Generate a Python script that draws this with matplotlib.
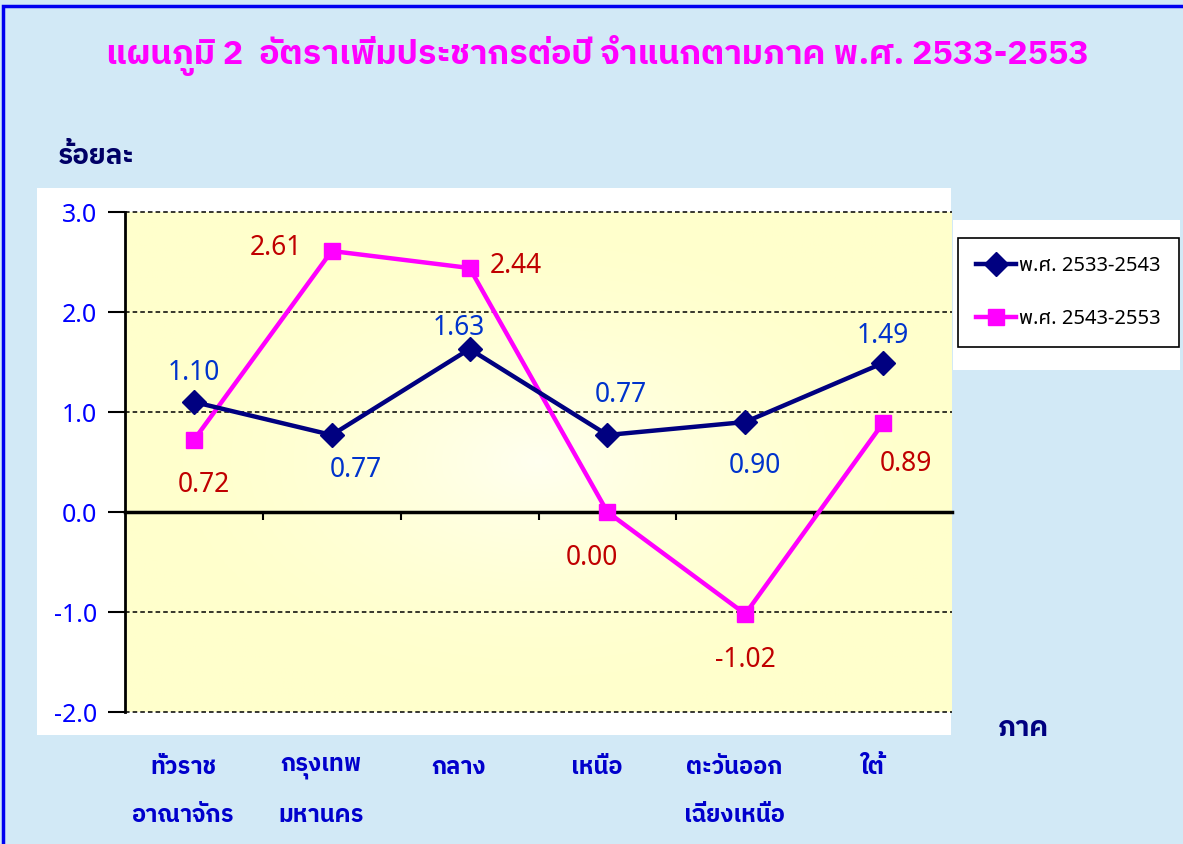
import matplotlib
matplotlib.use("Agg")
import matplotlib.pyplot as plt
from matplotlib.patches import Rectangle
from matplotlib import font_manager
import numpy as np

# ข้อมูล
ภาค = ['ทั่วราช\nอาณาจักร', 'กรุงเทพ\nมหานคร', 'กลาง', 'เหนือ', 'ตะวันออก\nเฉียงเหนือ', 'ใต้']
ชื่อชุด1 = 'พ.ศ. 2533-2543'
ชื่อชุด2 = 'พ.ศ. 2543-2553'
ค่าชุด1 = [1.10, 0.77, 1.63, 0.77, 0.90, 1.49]
ค่าชุด2 = [0.72, 2.61, 2.44, 0.00, -1.02, 0.89]
ค่าแกนy = [-2.0, -1.0, 0.0, 1.0, 2.0, 3.0]

# ตำแหน่งป้ายค่า (พิกเซล, +x ขวา, +y ลง)
เลื่อน1 = [(0, -29), (24, 35), (-11, -21), (13, -40), (10, 44), (0, -27)]
เลื่อน2 = [(10, 45), (-56, -3), (46, -2), (-15, 46), (0, 46), (23, 41)]

FONT = ['Noto Sans Thai', 'DejaVu Sans']
plt.rcParams['font.family'] = FONT

# หาไฟล์ตัวหนาที่มีอักษรไทย
def หาไฟล์หนา():
    for fam in ['Noto Sans Thai', 'Noto Sans Thai UI', 'IBM Plex Sans Thai', 'Sarabun', 'Kanit']:
        cand = [f for f in font_manager.fontManager.ttflist
                if f.name == fam and isinstance(f.weight, int) and f.weight >= 600
                and f.style == 'normal']
        if cand:
            cand.sort(key=lambda f: abs(f.weight - 700))
            return cand[0].fname
    return None

ไฟล์หนา = หาไฟล์หนา()

def bold(size):
    if ไฟล์หนา:
        return dict(fontproperties=font_manager.FontProperties(fname=ไฟล์หนา, size=size))
    return dict(fontsize=size, fontweight='bold')

W, H = 1183, 844
fig = plt.figure(figsize=(W / 100, H / 100), dpi=100)
fig.patch.set_facecolor('#D2E9F6')

def fx(px): return px / W
def fy(py): return 1 - py / H

# กรอบนอกสีน้ำเงิน
fig.patches.append(Rectangle((fx(3), fy(900)), fx(1300), fy(6) - fy(900), transform=fig.transFigure,
                             fill=False, edgecolor='#0000F0', linewidth=2.5, zorder=-2))
# พื้นขาวของกราฟ
fig.patches.append(Rectangle((fx(37), fy(735)), fx(951 - 37), fy(188) - fy(735), transform=fig.transFigure,
                             facecolor='white', edgecolor='none', zorder=-2))
# พื้นขาวของคำอธิบาย
fig.patches.append(Rectangle((fx(953), fy(370)), fx(1180 - 953), fy(220) - fy(370), transform=fig.transFigure,
                             facecolor='white', edgecolor='none', zorder=-2))

ax = fig.add_axes([fx(125), fy(712), fx(952 - 125), fy(212) - fy(712)])
ax.set_facecolor('#FFFFCC')

# ไล่สีพื้นเหลือง
gx, gy = np.meshgrid(np.linspace(-1, 1, 200), np.linspace(-1, 1, 200))
r = np.clip(np.sqrt(gx ** 2 + gy ** 2), 0, 1)
img = np.ones((200, 200, 3))
img[..., 2] = 0.80 + 0.14 * (1 - r) ** 1.8
ax.imshow(img, extent=[0, 1, 0, 1], transform=ax.transAxes, aspect='auto', zorder=0)

x = np.arange(len(ภาค)) + 0.5
ax.set_xlim(0, len(ภาค))
ax.set_ylim(min(ค่าแกนy), max(ค่าแกนy))

# เส้นตาราง
for v in ค่าแกนy:
    if v != 0:
        ax.axhline(v, color='black', linestyle=(0, (3, 2)), linewidth=1.1, zorder=1, clip_on=False)

ax.spines['top'].set_visible(False)
ax.spines['right'].set_visible(False)
ax.spines['left'].set_linewidth(2)
ax.spines['bottom'].set_position(('data', 0))
ax.spines['bottom'].set_linewidth(2.5)
ax.spines['bottom'].set_zorder(2)

ax.set_yticks(ค่าแกนy)
ax.set_yticklabels([f'{v:.1f}' for v in ค่าแกนy])
ax.tick_params(axis='y', direction='out', length=12, width=1.5, colors='black',
               labelcolor='#0000FF', labelsize=18, pad=8)
ax.set_xticks([])
ax.set_xticks(np.arange(1, len(ภาค)), minor=True)
ax.tick_params(axis='x', which='minor', direction='out', length=6, width=1.5, colors='black')

ax.plot(x, ค่าชุด1, color='#000080', linewidth=3.2, marker='D', markersize=12,
        label=ชื่อชุด1, zorder=4, clip_on=False)
ax.plot(x, ค่าชุด2, color='#FF00FF', linewidth=3.2, marker='s', markersize=12,
        label=ชื่อชุด2, zorder=3, clip_on=False)

for xi, v, (dx, dy) in zip(x, ค่าชุด1, เลื่อน1):
    ax.annotate(f'{v:.2f}', (xi, v), xytext=(dx * 0.72, -dy * 0.72), textcoords='offset points',
                ha='center', va='center', color='#0033CC', fontsize=19, zorder=5)
for xi, v, (dx, dy) in zip(x, ค่าชุด2, เลื่อน2):
    ax.annotate(f'{v:.2f}', (xi, v), xytext=(dx * 0.72, -dy * 0.72), textcoords='offset points',
                ha='center', va='center', color='#C00000', fontsize=19, zorder=5)

# ชื่อภาค
tr = ax.get_xaxis_transform()
for xi, lab in zip(x, ภาค):
    ax.text(xi - 0.08, -0.088, lab, transform=tr, ha='center', va='top', color='#0000CC',
            linespacing=2.4, clip_on=False, **bold(17))

fig.text(fx(597), fy(55), 'แผนภูมิ 2  อัตราเพิ่มประชากรต่อปี จำแนกตามภาค พ.ศ. 2533-2553',
         ha='center', va='center', color='#FF00FF', **bold(24.5))
fig.text(fx(58), fy(157), 'ร้อยละ', ha='left', va='center', color='#000066', **bold(20))
fig.text(fx(998), fy(728), 'ภาค', ha='left', va='center', color='#000080', **bold(20))

leg = fig.legend(loc='upper left', bbox_to_anchor=(fx(958), fy(238)), borderaxespad=0,
                 fancybox=False, edgecolor='black', framealpha=1, fontsize=14.5,
                 handlelength=2.0, handletextpad=0.15, labelspacing=1.65, borderpad=0.9)
leg.get_frame().set_linewidth(1.2)

fig.savefig('out.png', dpi=100, facecolor=fig.get_facecolor())
